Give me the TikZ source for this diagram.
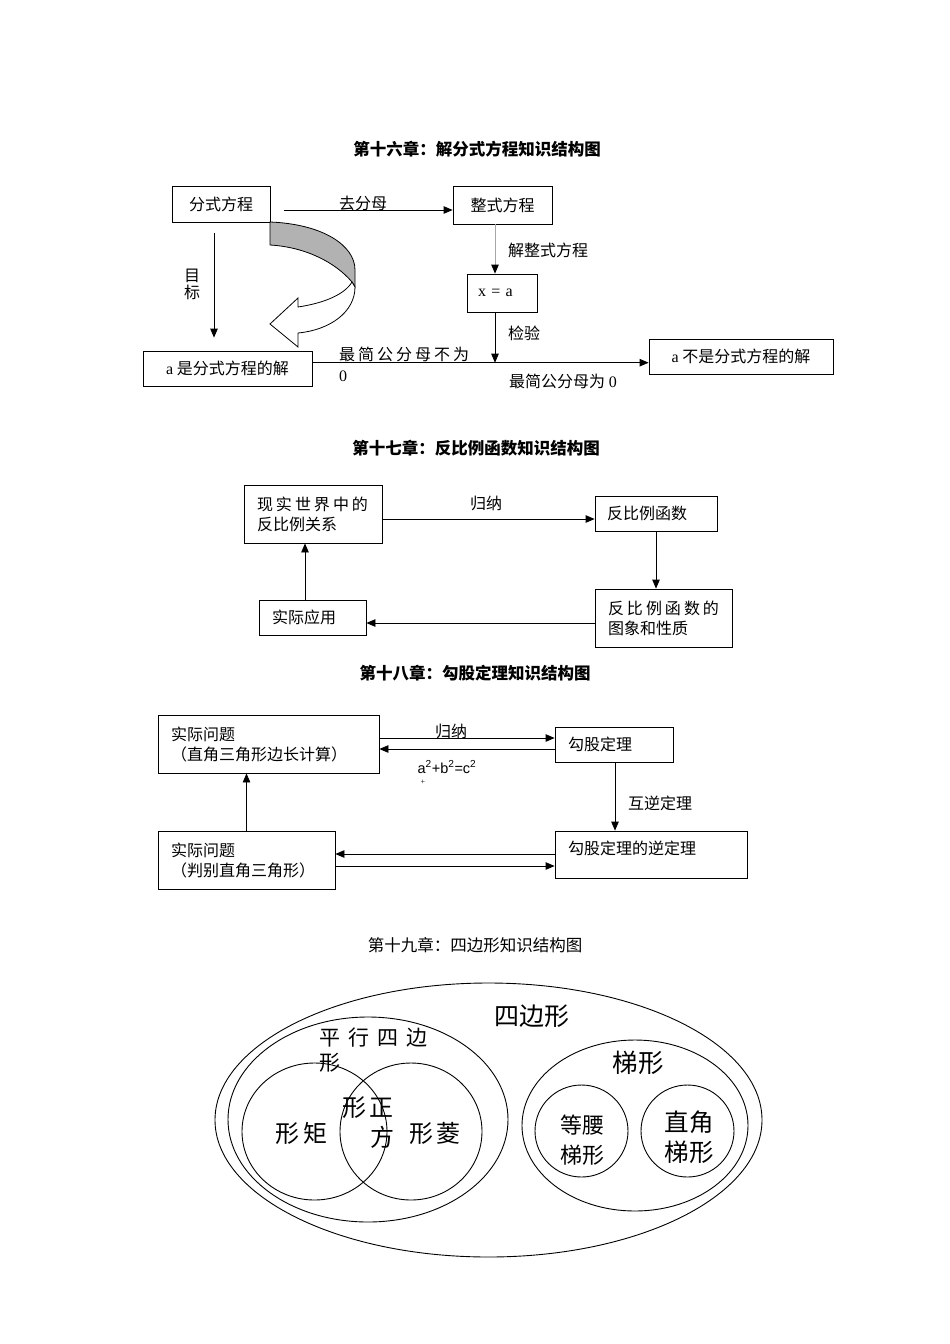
\documentclass[tikz,border=0pt]{standalone}
\usepackage{fontspec}
\setmainfont{Liberation Serif}
\newfontfamily\cjk{Noto Sans CJK SC}
\newfontfamily\sansf{Liberation Sans}
\usetikzlibrary{arrows.meta}
\newcommand{\chgap}{\kern3pt}

\begin{document}
\begin{tikzpicture}[x=1pt,y=-1pt,
  box/.style={draw,line width=0.8pt,inner sep=0pt,font=\cjk\fontsize{16}{20}\selectfont},
  lbl/.style={inner sep=0pt,font=\cjk\fontsize{16}{20}\selectfont},
  ttl/.style={inner sep=0pt,font=\cjk\bfseries\fontsize{16.5}{20}\selectfont},
  arr/.style={line width=0.8pt,-{Triangle[length=9pt,width=7.5pt]}},
  ring/.style={line width=0.9pt}]
\useasboundingbox[fill=white] (0,0) rectangle (950,1344);

\node[ttl] (t16) at (477,149) {第十六章：解分式方程知识结构图};
\node[box,minimum width=98pt,minimum height=36pt] (frac) at (221,204) {分式方程};
\node[box,minimum width=99pt,minimum height=38pt] (whole) at (502.5,205) {整式方程};
\node[box,text width=48pt,inner xsep=11pt,minimum height=38pt,align=left,font=\rmfamily\fontsize{16}{20}\selectfont] (xa) at (502,293) {x = a};
\node[box,minimum width=169pt,minimum height=35pt] (yes) at (227.5,368.5) {{\rmfamily a} 是分式方程的解};
\node[box,minimum width=184pt,minimum height=35pt] (no) at (741,356.5) {{\rmfamily a} 不是分式方程的解};
\coordinate (meet) at (495,362.7);
\draw[arr] ([xshift=14pt,yshift=-6pt]frac.east) -- ([yshift=-6pt]frac.east -| whole.west);
\node[lbl] (clear) at (363,203) {去分母};
\draw[arr,draw=gray!70,-{Triangle[length=9pt,width=7.5pt,black]}] ([xshift=-7.5pt]whole.south) -- ([xshift=-7pt]xa.north);
\node[lbl] (solve) at (548,250) {解整式方程};
\draw[arr] ([xshift=-7pt]xa.south) -- (meet);
\node[lbl] (check) at (524,333) {检验};
\draw[arr] (yes.east |- meet) -- (no.west |- meet);
\node[lbl,align=left,font=\cjk\fontsize{16}{21}\selectfont,anchor=west] (nonzero) at (339,364.5) {最\chgap{}简\chgap{}公\chgap{}分\chgap{}母\chgap{}不\chgap{}为\\{\rmfamily 0}};
\node[lbl] (zero) at (563,381) {最简公分母为 {\rmfamily 0}};
\draw[arr] ([xshift=-7pt,yshift=-11pt]frac.south) -- ([xshift=-13.5pt,yshift=13pt]yes.north);
\node[lbl,align=center,font=\cjk\fontsize{16}{17}\selectfont] (goal) at (192,284.5) {目\\标};
\filldraw[fill=gray!60,line width=0.8pt] (270,222) .. controls (322,224) and (355,245) .. (355,270) -- (355,287) -- (352,282) .. controls (335,262) and (305,247) .. (270,245) -- cycle;
\filldraw[fill=white,line width=0.8pt] (355,287) -- (352,282) .. controls (345,294) and (325,303) .. (298,307) -- (298,298) -- (270,324) -- (298,347) -- (298,333) .. controls (330,330) and (355,312) .. (355,287);

\node[ttl] (t17) at (476,448) {第十七章：反比例函数知识结构图};
\node[box,text width=112pt,inner xsep=13pt,minimum height=58pt,align=left] (real) at (313,514) {现\chgap{}实\chgap{}世\chgap{}界\chgap{}中\chgap{}的\\反比例关系};
\node[box,text width=98pt,inner xsep=12pt,minimum height=35pt,align=left] (inv) at (656,513.5) {反比例函数};
\node[box,text width=111pt,inner xsep=13pt,minimum height=58pt,align=left] (prop) at (663.5,618) {反\chgap{}比\chgap{}例\chgap{}函\chgap{}数\chgap{}的\\图象和性质};
\node[box,text width=81pt,inner xsep=13pt,minimum height=35pt,align=left] (app) at (312.5,617.5) {实际应用};
\draw[arr] ([yshift=-5pt]real.east) -- ([yshift=-5pt]real.east -| inv.west);
\node[lbl] (ind17) at (486,503) {归纳};
\draw[arr] (inv.south) -- (inv.south |- prop.north);
\draw[arr] ([yshift=-5pt]prop.west) -- ([yshift=-5pt]prop.west -| app.east);
\draw[arr] ([xshift=-7.5pt]app.north) -- ([xshift=-7.5pt]app.north |- real.south);

\node[ttl] (t18) at (475,673) {第十八章：勾股定理知识结构图};
\node[box,text width=195pt,inner xsep=13pt,minimum height=58pt,align=left] (calc) at (268.5,744) {实际问题\\（直角三角形边长计算）};
\node[box,text width=92pt,inner xsep=13pt,minimum height=35pt,align=left] (gg) at (614,744.5) {勾股定理};
\node[box,text width=166pt,inner xsep=13pt,minimum height=47pt,text depth=13pt,align=left] (ggi) at (651,854.5) {勾股定理的逆定理};
\node[box,text width=151pt,inner xsep=13pt,minimum height=58pt,align=left] (judge) at (246.5,860) {实际问题\\（判别直角三角形）};
\draw[arr] ([yshift=6pt]calc.east) -- ([yshift=6pt]calc.east -| gg.west);
\draw[arr] ([yshift=-5pt]calc.east -| gg.west) -- ([yshift=-5pt]calc.east);
\node[lbl] (ind18) at (451,731) {归纳};
\node[lbl,font=\sansf\fontsize{14.5}{17}\selectfont] (pyth) at (447,767) {a\textsuperscript{2}+b\textsuperscript{2}=c\textsuperscript{2}};
\node[lbl,font=\rmfamily\fontsize{8}{9}\selectfont] (plus) at (423,782) {+};
\draw[arr] ([xshift=1pt]gg.south) -- ([xshift=1pt]gg.south |- ggi.north);
\node[lbl] (rev) at (660,803) {互逆定理};
\draw[arr] ([yshift=0.5pt]ggi.west) -- ([yshift=0.5pt]ggi.west -| judge.east);
\draw[arr] ([yshift=-11.5pt]ggi.west -| judge.east) -- ([yshift=-11.5pt]ggi.west);
\draw[arr] (judge.north) -- (judge.north |- calc.south);

\node[lbl,font=\cjk\fontsize{16.5}{20}\selectfont] (t19) at (475,945) {第十九章：四边形知识结构图};
\draw[ring] (488.5,1120) ellipse [x radius=273.5pt, y radius=137pt];
\draw[ring] (368,1119.5) ellipse [x radius=140pt, y radius=102.5pt];
\draw[ring] (314.5,1131.5) ellipse [x radius=72.5pt, y radius=68.5pt];
\draw[ring] (411,1131.5) ellipse [x radius=71pt, y radius=68.5pt];
\draw[ring] (635,1125.5) ellipse [x radius=113pt, y radius=85.5pt];
\draw[ring] (581.5,1131) ellipse [x radius=46.5pt, y radius=46pt];
\draw[ring] (687.5,1131) ellipse [x radius=46.5pt, y radius=46pt];
\node[lbl,font=\cjk\fontsize{25}{30}\selectfont] (quad) at (532,1016) {四边形};
\node[lbl,align=left,anchor=west,font=\cjk\fontsize{21}{25}\selectfont] (para) at (319,1050.5) {平\kern8pt 行\kern8pt 四\kern8pt 边\\形};
\node[lbl,font=\cjk\fontsize{24}{28}\selectfont] (rect) at (301.5,1133) {形\kern4pt 矩};
\node[lbl,font=\cjk\fontsize{24}{28}\selectfont] (sq1) at (368,1108) {形\kern4pt 正};
\node[lbl,font=\cjk\fontsize{24}{28}\selectfont] (sq2) at (382,1137) {方};
\node[lbl,font=\cjk\fontsize{24}{28}\selectfont] (rhom) at (435,1133) {形\kern4pt 菱};
\node[lbl,font=\cjk\fontsize{25.5}{30}\selectfont] (trap) at (638,1063) {梯形};
\node[lbl,align=center,font=\cjk\fontsize{22}{30}\selectfont] (iso) at (582,1140) {等腰\\梯形};
\node[lbl,align=center,font=\cjk\fontsize{24.5}{30}\selectfont] (rt) at (689,1137.5) {直角\\梯形};
\end{tikzpicture}
\end{document}
